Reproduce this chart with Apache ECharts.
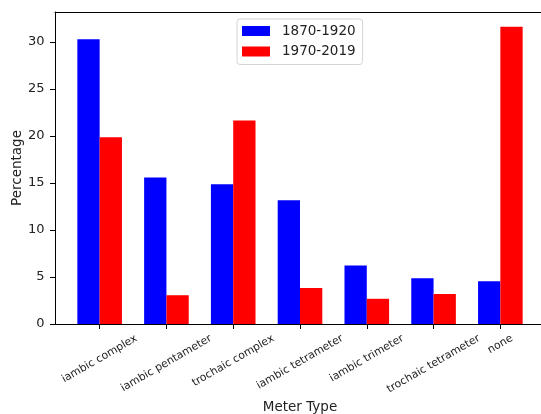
<!DOCTYPE html>
<html><head><meta charset="utf-8">
<script src="https://cdn.jsdelivr.net/npm/echarts@6/dist/echarts.min.js"></script>
<style>html,body{margin:0;padding:0;background:#fff}#c{width:541px;height:414px}</style>
</head><body><div id="c"></div>
<script>
const categories = ['iambic complex','iambic pentameter','trochaic complex','iambic tetrameter','iambic trimeter','trochaic tetrameter','none'];
const values1870 = [30.27, 15.58, 14.87, 13.17, 6.23, 4.86, 4.55];
const values1970 = [19.87, 3.06, 21.65, 3.83, 2.68, 3.19, 31.6];
const yTicks = [0, 5, 10, 15, 20, 25, 30];
const seriesNames = ['1870-1920', '1970-2019'];

const FONT = 'DejaVu Sans';
const TXT = '#222';
const xLabelSize = 10.8;
const xTickPos = categories.map((c, i) => i);
const X_MIN = -0.6685, X_MAX = 6.6685;

// matplotlib centres each rotated (30 deg) label's bounding box under its tick,
// so the label centre drops by a quarter of the label width.
const ctx = document.createElement('canvas').getContext('2d');
ctx.font = xLabelSize + 'px "' + FONT + '"';
const labelDrop = categories.map(c => 13.6 + 0.25 * ctx.measureText(c).width);

const chart = echarts.init(document.getElementById('c'), null, { renderer: 'canvas' });
chart.setOption({
  animation: false,
  backgroundColor: '#fff',
  textStyle: { fontFamily: FONT },
  grid: { left: 55, right: -4, top: 12, bottom: 90, containLabel: false, outerBoundsMode: 'none' },
  legend: {
    data: seriesNames, orient: 'vertical', left: 237, top: 19,
    itemWidth: 28, itemHeight: 10, itemGap: 6.5, icon: 'rect',
    padding: [5, 7, 6, 5], borderColor: '#d5d5d5', borderWidth: 1, borderRadius: 3, backgroundColor: '#fff',
    textStyle: { fontFamily: FONT, fontSize: 13.5, color: TXT, padding: [0, 0, 0, 7] }
  },
  xAxis: [{
    type: 'value', min: X_MIN, max: X_MAX,
    axisLine: { show: true, onZero: false, lineStyle: { color: '#000', width: 1 } },
    axisTick: { show: true, customValues: xTickPos, length: 5, lineStyle: { color: '#000', width: 1 } },
    axisLabel: { show: false },
    splitLine: { show: false },
    name: 'Meter Type', nameLocation: 'middle', nameGap: 76, nameMoveOverlap: false,
    nameTextStyle: { fontFamily: FONT, fontSize: 13.5, color: TXT }
  }, {
    type: 'value', position: 'top', min: X_MIN, max: X_MAX,
    axisLine: { show: true, onZero: false, lineStyle: { color: '#000', width: 1 } },
    axisTick: { show: false }, axisLabel: { show: false }, splitLine: { show: false }
  }],
  yAxis: {
    type: 'value', min: 0, max: 33.18,
    axisLine: { show: true, onZero: false, lineStyle: { color: '#000', width: 1 } },
    axisTick: { show: true, customValues: yTicks, length: 5, lineStyle: { color: '#000', width: 1 } },
    axisLabel: { customValues: yTicks, fontFamily: FONT, fontSize: 13, color: TXT, margin: 10.5 },
    splitLine: { show: false },
    name: 'Percentage', nameLocation: 'middle', nameGap: 31, nameMoveOverlap: false,
    nameTextStyle: { fontFamily: FONT, fontSize: 13.5, color: TXT }
  },
  series: [{
    name: seriesNames[0], type: 'bar', xAxisIndex: 0,
    data: values1870.map((v, i) => [i, v]),
    barWidth: 22.3, barGap: '0%', itemStyle: { color: '#0000ff' }
  }, {
    name: seriesNames[1], type: 'bar', xAxisIndex: 0,
    data: values1970.map((v, i) => [i, v]),
    barWidth: 22.3, barGap: '0%', itemStyle: { color: '#ff0000' }
  }, {
    name: 'category labels', type: 'custom', xAxisIndex: 0, clip: false, silent: true, z: 10,
    data: xTickPos.map(i => [i, 0]),
    encode: { x: 0, y: 1 },
    renderItem: function (params, api) {
      const i = api.value(0);
      const p = api.coord([i, 0]);
      return {
        type: 'text', x: p[0], y: p[1] + labelDrop[i], rotation: Math.PI / 6,
        style: {
          text: categories[i], fontFamily: FONT, fontSize: xLabelSize, fill: TXT,
          align: 'center', verticalAlign: 'middle'
        }
      };
    }
  }]
});
</script>
</body></html>
